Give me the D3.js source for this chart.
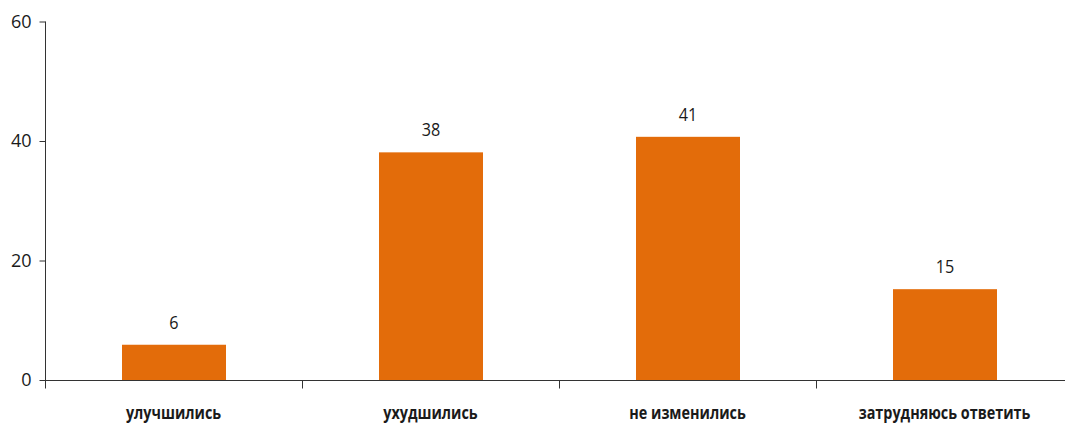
<!DOCTYPE html>
<html><head><meta charset="utf-8">
<script src="https://cdn.jsdelivr.net/npm/d3@7"></script>
<style>body{margin:0;background:#fff}svg{display:block}</style>
</head><body>
<svg id="c" width="1065" height="423"></svg>
<script>
const categories = ["улучшились", "ухудшились", "не изменились", "затрудняюсь ответить"];
const values = [5.9, 38.1, 40.7, 15.2];
const valueLabels = ["6", "38", "41", "15"];
const yTicks = [0, 20, 40, 60];

const svg = d3.select("#c");
const x0 = 45, x1 = 1073, yTop = 21.5, yBot = 380;
const x = d3.scaleBand().domain(categories).range([x0, x1]).paddingInner(0).paddingOuter(0);
const y = d3.scaleLinear().domain([0, 60]).range([yBot, yTop]);
const font = "'Open Sans', 'Noto Sans', sans-serif";
const color = "#e36c0a";

const barW = 104;
svg.selectAll("rect.bar").data(values).enter().append("rect")
  .attr("x", (d, i) => x(categories[i]) + x.bandwidth() / 2 - barW / 2 + 0.5)
  .attr("width", barW)
  .attr("y", d => y(d))
  .attr("height", d => y(0) - y(d))
  .attr("fill", color);

svg.selectAll("text.vl").data(values).enter().append("text")
  .attr("transform", (d, i) => `translate(${x(categories[i]) + x.bandwidth() / 2 + 0.5},${y(d) - 16}) scale(0.9,1)`)
  .attr("text-anchor", "middle")
  .attr("font-family", font).attr("font-size", 18).attr("fill", "#1a1a1a")
  .text((d, i) => valueLabels[i]);

// y axis
const ya = svg.append("g").attr("transform", `translate(${x0 + 0.5},0)`)
  .call(d3.axisLeft(y).tickValues(yTicks).tickSize(6).tickSizeOuter(0).tickPadding(8));
ya.select(".domain").attr("stroke", "#333").attr("d", `M0,${yTop}V${yBot}`);
ya.selectAll(".tick line").attr("stroke", "#333");
ya.selectAll(".tick text").attr("font-family", font).attr("font-size", 18).attr("fill", "#1a1a1a");

// x axis
const xa = svg.append("g").attr("transform", `translate(0,${yBot + 0.5})`);
xa.append("line").attr("x1", x0).attr("x2", 1065).attr("stroke", "#333");
const bounds = categories.map(c => x(c)).concat([x1]);
xa.selectAll("line.t").data(bounds).enter().append("line")
  .attr("x1", d => Math.round(d) + 0.5).attr("x2", d => Math.round(d) + 0.5)
  .attr("y1", 0).attr("y2", 8).attr("stroke", "#333");
xa.selectAll("text").data(categories).enter().append("text")
  .attr("transform", d => `translate(${x(d) + x.bandwidth() / 2},38) scale(0.8,1)`)
  .attr("text-anchor", "middle")
  .attr("font-family", font).attr("font-size", 18).attr("font-weight", 700)
  .attr("fill", "#1a1a1a")
  .text(d => d);
</script>
</body></html>
